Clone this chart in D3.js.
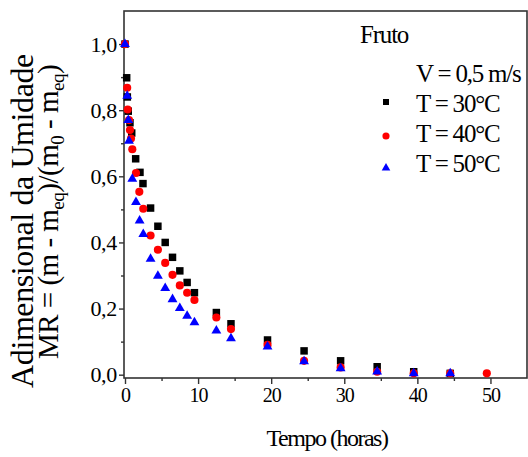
<!DOCTYPE html>
<html>
<head>
<meta charset="utf-8">
<script src="https://cdn.jsdelivr.net/npm/d3@7"></script>
<style>
  body { margin: 0; background: #fff; }
  text { font-family: "Liberation Serif", "Times New Roman", serif; fill: #000; }
</style>
</head>
<body>
<script>
// data: drying time (h) vs moisture ratio
const t30 = [0, 0.23, 0.32, 0.45, 0.68, 0.92, 1.46, 2.05, 2.46, 3.5, 4.5, 5.5, 6.5, 7.5, 8.5, 9.5, 12.5, 14.5, 19.5, 24.5, 29.5, 34.5, 39.5, 44.5];
const mr30 = [1.0, 0.898, 0.84, 0.797, 0.762, 0.731, 0.653, 0.612, 0.578, 0.504, 0.449, 0.40, 0.355, 0.314, 0.279, 0.248, 0.188, 0.154, 0.105, 0.072, 0.042, 0.024, 0.009, 0.004];

const t40 = [0, 0.3, 0.37, 0.55, 0.68, 0.82, 1.0, 1.5, 1.96, 2.5, 3.5, 4.5, 5.5, 6.5, 7.5, 8.5, 9.5, 12.5, 14.5, 19.5, 24.5, 29.5, 34.5, 39.5, 44.5, 49.5];
const mr40 = [1.0, 0.868, 0.802, 0.77, 0.74, 0.714, 0.682, 0.61, 0.553, 0.502, 0.421, 0.378, 0.338, 0.302, 0.27, 0.248, 0.226, 0.173, 0.138, 0.09, 0.042, 0.022, 0.009, 0.004, 0.004, 0.004];

const t50 = [0, 0.3, 0.45, 0.55, 1.0, 1.5, 2.0, 2.5, 3.5, 4.5, 5.5, 6.5, 7.5, 8.5, 9.5, 12.5, 14.5, 19.5, 24.5, 29.5, 34.5, 39.5, 44.5];
const mr50 = [1.0, 0.843, 0.77, 0.707, 0.592, 0.522, 0.466, 0.425, 0.35, 0.299, 0.262, 0.228, 0.201, 0.178, 0.158, 0.133, 0.11, 0.085, 0.04, 0.019, 0.009, 0.004, 0.004];

const xTicks = [0, 10, 20, 30, 40, 50];
const xMinor = [5, 15, 25, 35, 45];
const yTicks = [0, 0.2, 0.4, 0.6, 0.8, 1.0];
const yMinor = [0.1, 0.3, 0.5, 0.7, 0.9];

const legendLabels = ["T = 30°C", "T = 40°C", "T = 50°C"];

const series = [
  { t: t30, mr: mr30, color: "#000", shape: d3.symbolSquare, size: 56, lsize: 36 },
  { t: t40, mr: mr40, color: "#ff0000", shape: d3.symbolCircle, size: 52, lsize: 40 },
  { t: t50, mr: mr50, color: "#0000ff", shape: d3.symbolTriangle, size: 42, lsize: 32 }
];

const svg = d3.select("body").append("svg")
    .attr("width", 528)
    .attr("height", 457);

const x = d3.scaleLinear().domain([0, 55]).range([125, 527]);
const y = d3.scaleLinear().domain([-0.01, 1.1]).range([378, 11]);

// frame
svg.append("rect")
    .attr("x", 124).attr("y", 11)
    .attr("width", 403).attr("height", 367)
    .attr("fill", "none")
    .attr("stroke", "#333")
    .attr("stroke-width", 1.6);

const comma = d3.format(".1f");

svg.append("g")
    .attr("class", "xax")
    .attr("transform", "translate(0,378)")
    .call(d3.axisBottom(x).tickValues(xTicks).tickSize(6).tickSizeOuter(0).tickPadding(4));
svg.append("g")
    .attr("transform", "translate(0,378)")
    .call(d3.axisBottom(x).tickValues(xMinor).tickSize(3).tickSizeOuter(0).tickFormat(""));

svg.append("g")
    .attr("class", "yax")
    .attr("transform", "translate(124,0)")
    .call(d3.axisLeft(y).tickValues(yTicks).tickSize(5).tickSizeOuter(0).tickPadding(2)
      .tickFormat(d => comma(d).replace(".", ",")));
svg.append("g")
    .attr("transform", "translate(124,0)")
    .call(d3.axisLeft(y).tickValues(yMinor).tickSize(3).tickSizeOuter(0).tickFormat(""));

svg.selectAll(".domain").remove();
svg.selectAll(".tick line").attr("stroke", "#333").attr("stroke-width", 1.4);
svg.selectAll(".tick text")
    .style("font-family", "'Liberation Serif', serif")
    .attr("fill", "#000");
svg.selectAll(".xax .tick text")
    .style("font-size", "20px")
    .style("letter-spacing", "-1px");
svg.selectAll(".yax .tick text")
    .style("font-size", "22px")
    .style("letter-spacing", "-0.3px");

// points
series.forEach(s => {
  svg.append("g").selectAll("path")
      .data(s.t.map((d, i) => [d, s.mr[i]]))
      .enter()
      .append("path")
      .attr("d", d3.symbol().type(s.shape).size(s.size))
      .attr("transform", d => `translate(${x(d[0])},${y(d[1])})`)
      .attr("fill", s.color);
});

// axis titles
svg.append("text")
    .attr("x", 327).attr("y", 446)
    .attr("text-anchor", "middle")
    .style("font-size", "24px")
    .style("letter-spacing", "-1.5px")
    .text("Tempo (horas)");

const yl = svg.append("g").attr("transform", "rotate(-90)");
yl.append("text")
    .attr("x", -221).attr("y", 33)
    .attr("text-anchor", "middle")
    .style("font-size", "32px")
    .style("letter-spacing", "-0.4px")
    .text("Adimensional da Umidade");

const l2 = yl.append("text")
    .attr("x", -212).attr("y", 58)
    .attr("text-anchor", "middle")
    .style("font-size", "29px")
    .style("letter-spacing", "-0.5px");
[["MR = (m - m", 0], ["eq", 1], [")/(m", 0], ["0", 1], [" - m", 0], ["eq", 1], [")", 0]].forEach(p => {
  const ts = l2.append("tspan").text(p[0]);
  if (p[1]) ts.attr("baseline-shift", "-30%").style("font-size", "19px");
});

// legend
const legFont = "25px", legSpace = "-1.2px";
svg.append("text")
    .attr("x", 360).attr("y", 43)
    .style("font-size", legFont)
    .style("letter-spacing", legSpace)
    .text("Fruto");
svg.append("text")
    .attr("x", 416).attr("y", 82)
    .style("font-size", legFont)
    .style("letter-spacing", legSpace)
    .text("V = 0,5 m/s");

const legY = [102, 136, 168];
const legBase = [112, 142, 172];
series.forEach((s, i) => {
  svg.append("path")
      .attr("d", d3.symbol().type(s.shape).size(s.lsize))
      .attr("transform", `translate(386,${legY[i]})`)
      .attr("fill", s.color);
  svg.append("text")
      .attr("x", 416).attr("y", legBase[i])
      .style("font-size", legFont)
      .style("letter-spacing", legSpace)
      .text(legendLabels[i]);
});
</script>
</body>
</html>
